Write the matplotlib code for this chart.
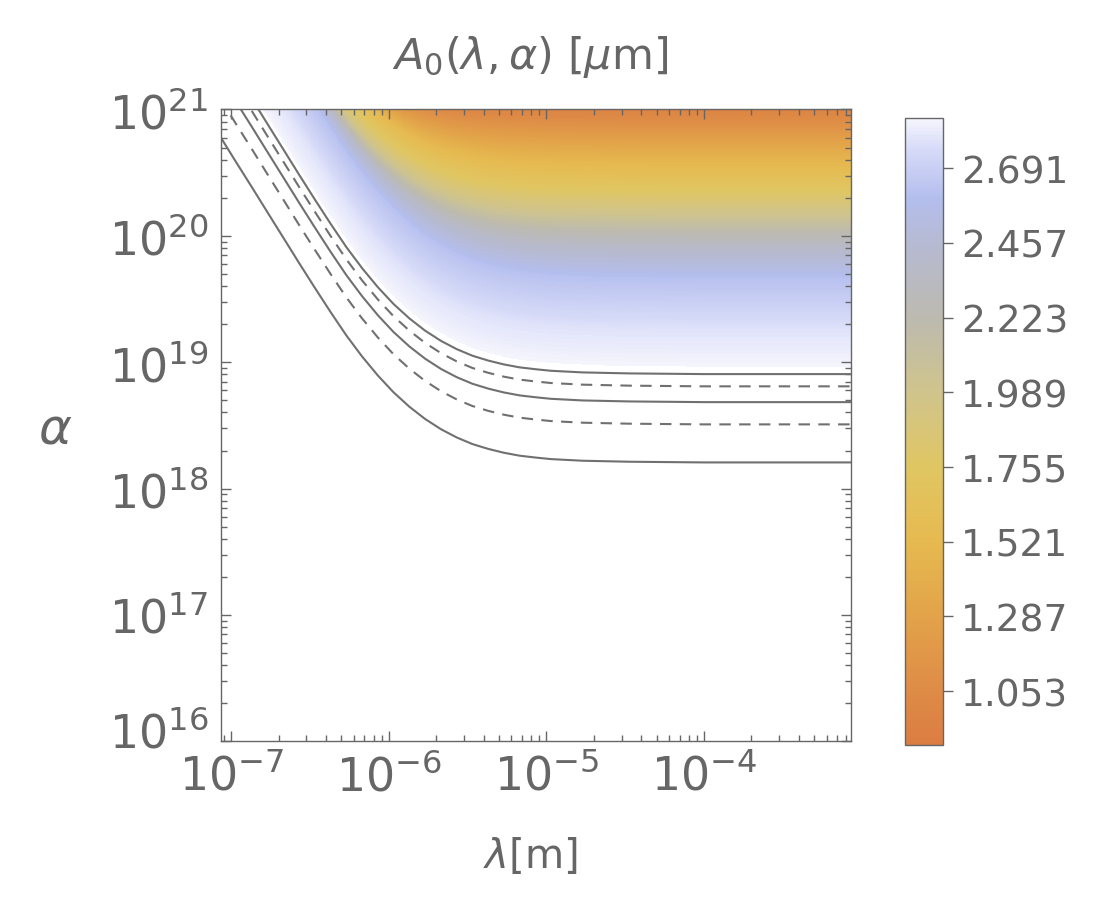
import numpy as np
import matplotlib.pyplot as plt
from matplotlib.colors import LinearSegmentedColormap
from matplotlib.transforms import ScaledTranslation

# lowest solid contour (lambda in m, alpha)
lam_base = [8.51e-8, 1.07e-7, 1.35e-7, 1.70e-7, 2.14e-7, 2.69e-7, 3.39e-7,
            4.27e-7, 5.37e-7, 6.76e-7, 8.51e-7, 1.07e-6, 1.35e-6, 1.70e-6,
            2.14e-6, 2.69e-6, 3.39e-6, 4.27e-6, 5.37e-6, 6.76e-6, 8.51e-6,
            1.07e-5, 1.70e-5, 3.39e-5, 1.00e-4, 8.51e-4]
alpha_base = [6.10e20, 3.85e20, 2.43e20, 1.53e20, 9.66e19, 6.11e19, 3.88e19,
              2.49e19, 1.63e19, 1.11e19, 7.85e18, 5.78e18, 4.44e18, 3.55e18,
              2.95e18, 2.54e18, 2.25e18, 2.06e18, 1.92e18, 1.82e18, 1.76e18,
              1.71e18, 1.66e18, 1.63e18, 1.61e18, 1.61e18]
# the other contours sit at multiples of the lowest one
contour_factor = [1, 2, 3, 4, 5]
contour_dashed = [False, True, False, True, False]

# colour levels of the density: value, alpha where it sits at large lambda,
# and how far (decades) the level's knee is moved to smaller lambda
level_value = [2.847, 2.78, 2.62, 2.40, 2.22, 1.99, 1.75, 1.52, 1.29, 1.05, 0.884]
level_alpha = [9.25e18, 1.8e19, 4.5e19, 7.9e19, 1.07e20, 1.5e20, 2.3e20,
               3.6e20, 5.5e20, 8.3e20, 1.2e21]
level_shift = [0.0, 0.0, 0.0, -0.05, -0.095, -0.14, -0.18, -0.227, -0.33, -0.45, -0.5]

cbar_ticks = [1.053, 1.287, 1.521, 1.755, 1.989, 2.223, 2.457, 2.691]
vmin, vmax = 0.884, 2.847

cmap_values = [0.884, 1.053, 1.287, 1.521, 1.755, 1.989, 2.223, 2.457, 2.60, 2.75, 2.847]
cmap_colors = ['#db7d42', '#de8c46', '#e2a349', '#e6ba50', '#e0c662', '#d0c48c',
               '#bcbab0', '#b6bad2', '#b4beee', '#d6daf8', '#f4f4fd']

lam_min, lam_max = 8.57e-8, 8.57e-4
alpha_min, alpha_max = 1e16, 1e21
alpha_ticks = [1e16, 1e17, 1e18, 1e19, 1e20, 1e21]

gray = '#666666'
line_gray = '#707070'

cmap = LinearSegmentedColormap.from_list(
    'm10', [((c - vmin) / (vmax - vmin), col) for c, col in zip(cmap_values, cmap_colors)])

# build the density field from the level curves
lu = np.log10(lam_base)
la = np.log10(alpha_base)
u = np.linspace(np.log10(lam_min), np.log10(lam_max), 700)
v = np.linspace(18.5, 21.0, 600)
curves = np.array([np.interp(u - s, lu, la) + np.log10(a) - la[-1]
                   for a, s in zip(level_alpha, level_shift)])
curves = np.maximum.accumulate(curves, axis=0)
Z = np.full((len(v), len(u)), np.nan)
for i in range(len(u)):
    Z[:, i] = np.interp(v, curves[:, i], level_value, left=np.nan, right=level_value[-1])

fig = plt.figure(figsize=(11.12, 9.04), dpi=100)
ax = fig.add_axes([0.1985, 0.1789, 0.5668, 0.6989])

mesh = ax.pcolormesh(10**u, 10**v, np.ma.masked_invalid(Z), cmap=cmap,
                     vmin=vmin, vmax=vmax, shading='nearest', rasterized=True)

for k, dashed in zip(contour_factor, contour_dashed):
    a = np.array(alpha_base) * k
    if dashed:
        ax.plot(lam_base, a, color=line_gray, lw=1.5, dashes=(5.5, 4))
    else:
        ax.plot(lam_base, a, color=line_gray, lw=1.5)

ax.set_xscale('log')
ax.set_yscale('log')
ax.set_xlim(lam_min, lam_max)
ax.set_ylim(alpha_min, alpha_max)
ax.set_yticks(alpha_ticks)

ax.tick_params(which='both', direction='in', top=True, right=True,
               color=gray, labelcolor=gray, labelsize=33, width=1)
ax.tick_params(which='major', length=7, pad=9)
ax.tick_params(which='minor', length=4)
for s in ax.spines.values():
    s.set_color(gray)
    s.set_linewidth(1)

# lowest alpha label sits a little above its tick, as in the original
lab = ax.yaxis.get_major_ticks()[0].label1
lab.set_transform(lab.get_transform() + ScaledTranslation(0, 0.13, fig.dpi_scale_trans))

fig.text(530 / 1112, 1 - 57 / 904, r'$A_0(\lambda,\alpha)$ [$\mu$m]', ha='center',
         va='center', fontsize=31, color=gray)
fig.text(530 / 1112, 1 - 857 / 904, r'$\lambda$[m]', ha='center', va='center',
         fontsize=29, color=gray)
fig.text(55 / 1112, 1 - 430 / 904, r'$\alpha$', ha='center', va='center',
         fontsize=36, color=gray)

cax = fig.add_axes([0.8138, 0.1748, 0.0342, 0.6932])
cb = fig.colorbar(mesh, cax=cax, ticks=cbar_ticks, format='%.3f')
cb.outline.set_edgecolor(gray)
cb.outline.set_linewidth(1)
cax.tick_params(direction='out', length=7, width=1, color=gray, labelcolor=gray,
                labelsize=27, pad=6)

fig.savefig('out.png', dpi=100)
